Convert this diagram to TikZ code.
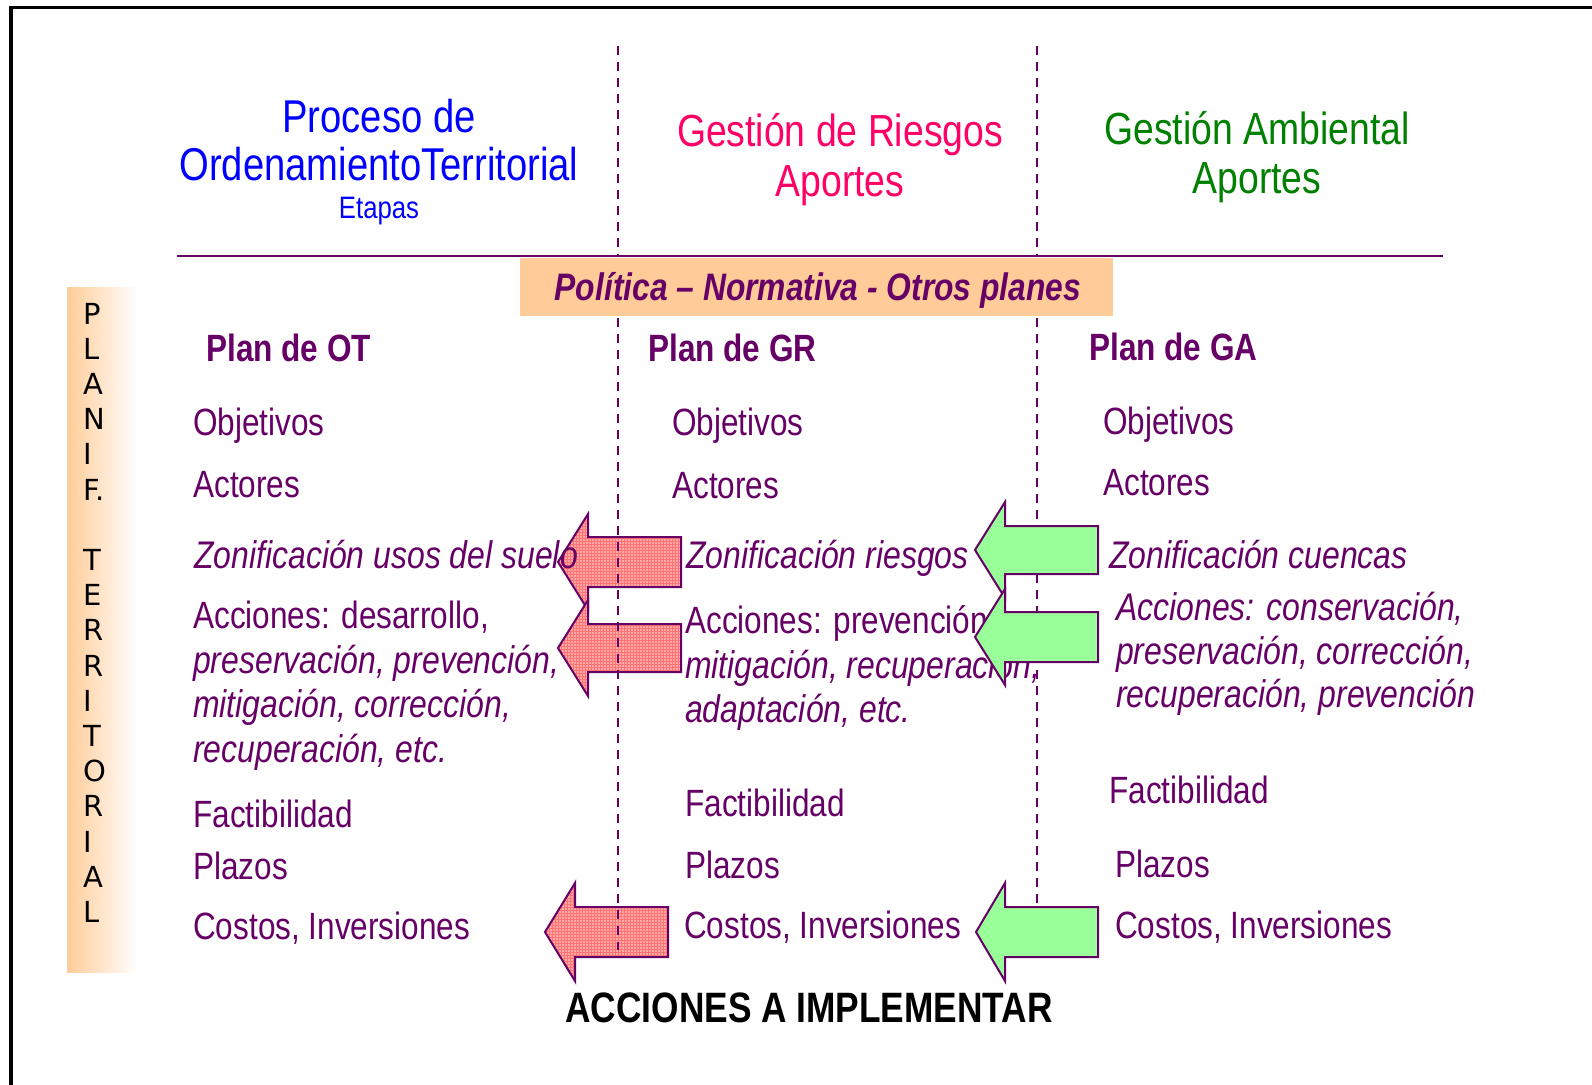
\documentclass[tikz,border=0pt]{standalone}
\usepackage{fontspec}
\setmainfont{Liberation Sans}[FakeStretch=0.83]
\newfontfamily\letterfont{DejaVu Sans}
\usetikzlibrary{patterns}
\definecolor{pur}{HTML}{660066}
\definecolor{orng}{HTML}{FFCC99}
\definecolor{pinkh}{HTML}{FF0066}
\definecolor{greenh}{HTML}{008000}
\definecolor{redfill}{HTML}{FFA8A8}
\definecolor{greenfill}{HTML}{99FF99}
\tikzset{
  txt/.style={anchor=base west, inner sep=0pt, text=pur, font=\fontsize{38}{40}\selectfont},
  itx/.style={txt, font=\fontsize{38.5}{40}\selectfont\itshape},
  plan/.style={txt, font=\fontsize{38}{40}\selectfont\bfseries},
  head/.style={anchor=base, inner sep=0pt, font=\fontsize{45}{48}\selectfont},
  vlet/.style={anchor=base west, inner sep=0pt, text=black, font=\fontsize{29}{30}\selectfont\letterfont},
  sep/.style={pur, line width=2pt, dash pattern=on 9pt off 7pt},
  redarrow/.style={draw=pur, line width=2pt, line join=miter},
  greenarrow/.style={draw=pur, fill=greenfill, line width=2pt, line join=miter}
}
\begin{document}
\begin{tikzpicture}[x=1pt,y=-1pt]
\useasboundingbox (0,0) rectangle (1592,1084);
\fill[white] (0,0) rectangle (1592,1084);
% frame
\draw[black, line width=3.2pt] (11,1090) -- (11,7.5) -- (1600,7.5);

% left vertical bar
\shade[left color=orng, right color=white] (67,287) rectangle (138,972);
\foreach \L [count=\i from 0] in {P,L,A,N,I,F.,,T,E,R,R,I,T,O,R,I,A,L}{
  \node[vlet] (v\i) at (83,{324+35.2*\i}) {\L};
}

% headers
\node[head, text=blue, font=\fontsize{46}{48}\selectfont] (h1a) at (379,132) {Proceso de};
\node[head, text=blue, font=\fontsize{46}{48}\selectfont] (h1b) at (379,180) {OrdenamientoTerritorial};
\node[anchor=base, inner sep=0pt, text=blue, font=\fontsize{31}{32}\selectfont] (h1c) at (379,218) {Etapas};
\node[head, text=pinkh] (h2a) at (840,146) {Gestión de Riesgos};
\node[head, text=pinkh] (h2b) at (840,196) {Aportes};
\node[head, text=greenh] (h3a) at (1257,144) {Gestión Ambiental};
\node[head, text=greenh] (h3b) at (1257,193) {Aportes};

% separators (right one under green arrows)
\draw[sep] (1037,46) -- (1037,257);
\draw[sep] (1037,318) -- (1037,930);
\draw[pur, line width=2pt] (177,255.5) -- (1443,255.5);

% policy box
\fill[orng] (520,258) rectangle (1113,316);
\node[anchor=base, inner sep=0pt, text=pur, font=\fontsize{38.3}{40}\selectfont\bfseries\itshape] (pol) at (818,300) {Política – Normativa - Otros planes};

% red arrows (under text)
\foreach \tx/\cy/\hx/\hh/\sh/\rx [count=\k] in {558/562/588/48/25/681, 558/648/588/48/24/681, 545/932/575/49/25/668}{
  \path[fill=redfill] (\tx,\cy) -- (\hx,\cy-\hh) -- (\hx,\cy-\sh) -- (\rx,\cy-\sh) -- (\rx,\cy+\sh) -- (\hx,\cy+\sh) -- (\hx,\cy+\hh) -- cycle;
  \path[pattern=grid, pattern color=red!55] (\tx,\cy) -- (\hx,\cy-\hh) -- (\hx,\cy-\sh) -- (\rx,\cy-\sh) -- (\rx,\cy+\sh) -- (\hx,\cy+\sh) -- (\hx,\cy+\hh) -- cycle;
  \draw[redarrow] (\tx,\cy) -- (\hx,\cy-\hh) -- (\hx,\cy-\sh) -- (\rx,\cy-\sh) -- (\rx,\cy+\sh) -- (\hx,\cy+\sh) -- (\hx,\cy+\hh) -- cycle;
}
% left separator above red arrows
\draw[sep] (618,46) -- (618,257);
\draw[sep] (618,318) -- (618,950);

% column 1
\node[plan] (p1) at (206,361) {Plan de OT};
\node[txt] (c1a) at (193,435) {Objetivos};
\node[txt] (c1b) at (193,497) {Actores};
\node[itx] (c1c) at (194,568) {Zonificación usos del suelo};
\node[txt] (c1d) at (193,628) {Acciones: desarrollo,};
\node[itx] (c1e) at (193,673) {preservación, prevención,};
\node[itx] (c1f) at (193,717) {mitigación, corrección,};
\node[itx] (c1g) at (193,762) {recuperación, etc.};
\node[txt] (c1h) at (193,827) {Factibilidad};
\node[txt] (c1i) at (193,879) {Plazos};
\node[txt] (c1j) at (193,939) {Costos, Inversiones};

% column 2
\node[plan] (p2) at (648,361) {Plan de GR};
\node[txt] (c2a) at (672,435) {Objetivos};
\node[txt] (c2b) at (672,498) {Actores};
\node[itx] (c2c) at (686,568) {Zonificación riesgos};
\node[txt] (c2d) at (685,633) {Acciones: prevención,};
\node[itx] (c2e) at (685,678) {mitigación, recuperación,};
\node[itx] (c2f) at (685,722) {adaptación, etc.};
\node[txt] (c2h) at (685,816) {Factibilidad};
\node[txt] (c2i) at (685,878) {Plazos};
\node[txt] (c2j) at (684,938) {Costos, Inversiones};

% column 3
\node[plan] (p3) at (1089,360) {Plan de GA};
\node[txt] (c3a) at (1103,434) {Objetivos};
\node[txt] (c3b) at (1103,495) {Actores};
\node[itx] (c3c) at (1109,568) {Zonificación cuencas};
\node[itx] (c3d) at (1116,620) {Acciones: conservación,};
\node[itx] (c3e) at (1116,664) {preservación, corrección,};
\node[itx] (c3f) at (1116,707) {recuperación, prevención};
\node[txt] (c3h) at (1109,803) {Factibilidad};
\node[txt] (c3i) at (1115,877) {Plazos};
\node[txt] (c3j) at (1115,938) {Costos, Inversiones};

% green arrows (over text)
\foreach \tx/\cy/\hx/\hh/\sh/\rx in {975/550/1005/48/24/1098, 975/637/1005/48/25/1098, 976/932/1005/49/25/1098}{
  \draw[greenarrow] (\tx,\cy) -- (\hx,\cy-\hh) -- (\hx,\cy-\sh) -- (\rx,\cy-\sh) -- (\rx,\cy+\sh) -- (\hx,\cy+\sh) -- (\hx,\cy+\hh) -- cycle;
}

% bottom label
\node[anchor=base, inner sep=0pt, text=black, font=\fontsize{42.5}{44}\selectfont\bfseries] (impl) at (809,1022) {ACCIONES A IMPLEMENTAR};
\end{tikzpicture}
\end{document}
